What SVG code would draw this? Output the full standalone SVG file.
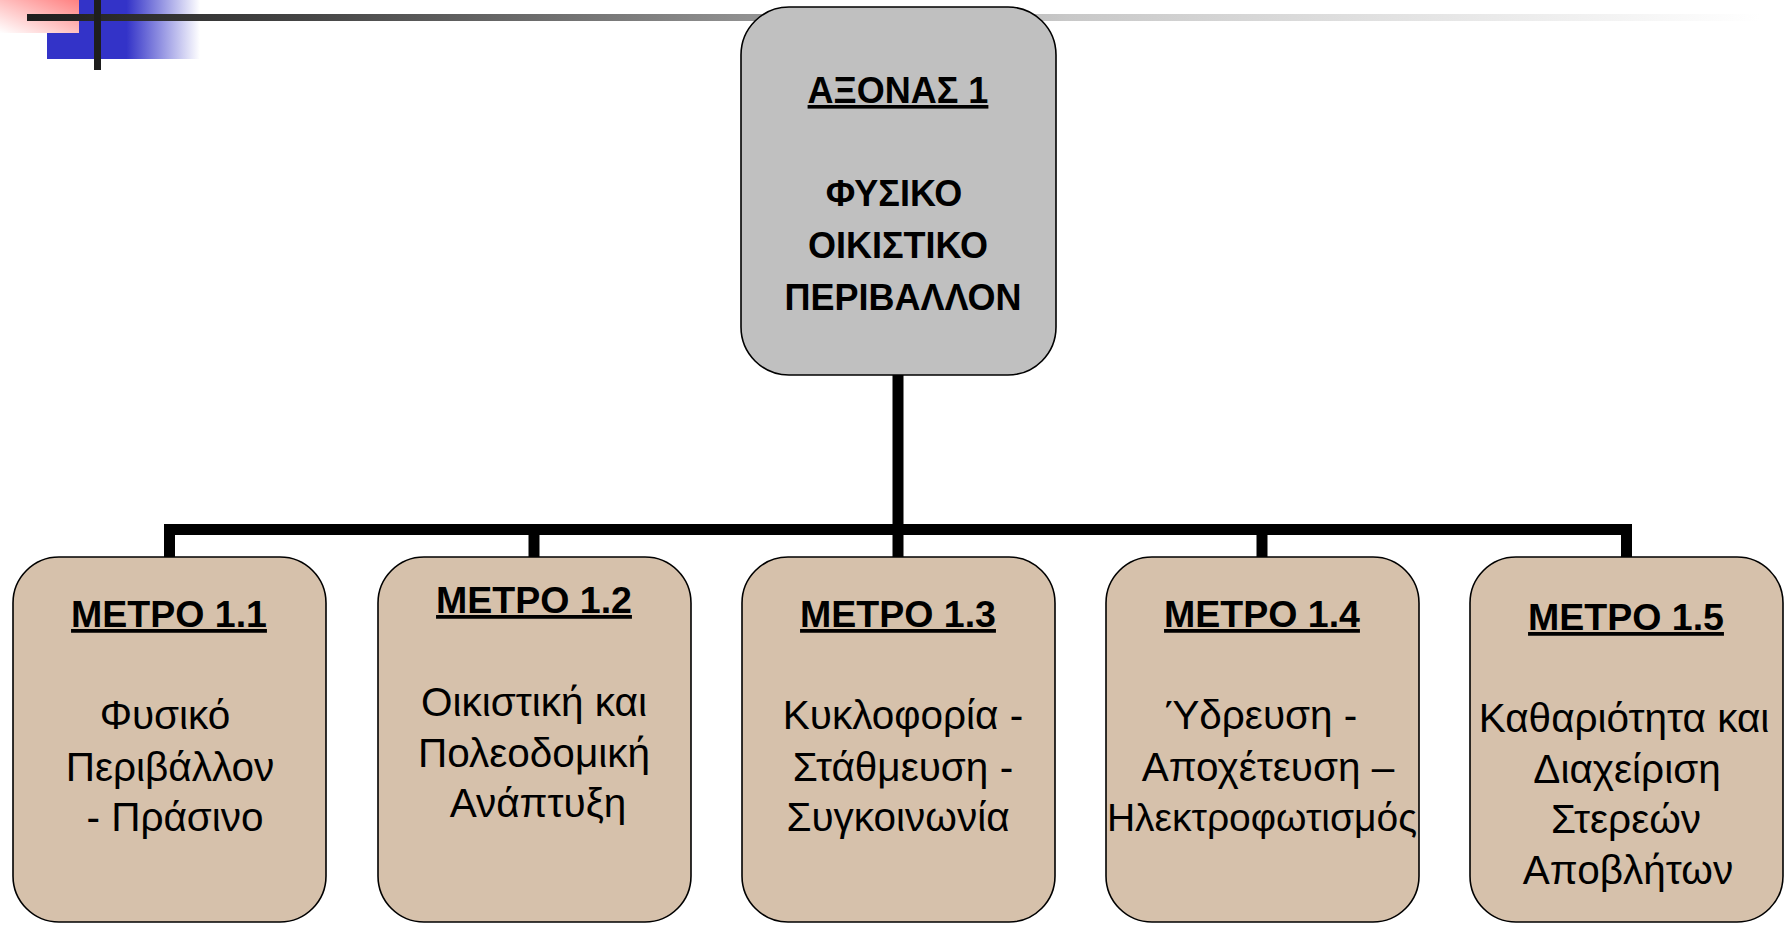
<svg xmlns="http://www.w3.org/2000/svg" width="1787" height="929" viewBox="0 0 1787 929">
<defs>
<linearGradient id="gRed" x1="1" y1="0" x2="0" y2="1">
<stop offset="0" stop-color="#ff8080"/>
<stop offset="1" stop-color="#ffffff"/>
</linearGradient>
<linearGradient id="gBlue" x1="47" y1="0" x2="200" y2="0" gradientUnits="userSpaceOnUse">
<stop offset="0" stop-color="#3333c8"/>
<stop offset="0.52" stop-color="#3333c8"/>
<stop offset="1" stop-color="#3333c8" stop-opacity="0"/>
</linearGradient>
<linearGradient id="gBar" x1="27" y1="0" x2="1760" y2="0" gradientUnits="userSpaceOnUse">
<stop offset="0" stop-color="#1e1e1e"/>
<stop offset="0.16" stop-color="#454545"/>
<stop offset="0.41" stop-color="#8f8f8f"/>
<stop offset="0.6" stop-color="#c8c8c8"/>
<stop offset="1" stop-color="#ffffff"/>
</linearGradient>
</defs>
<style>
.top{fill:#c0c0c0;stroke:#000;stroke-width:1.6}
.sub{fill:#d6c1ab;stroke:#000;stroke-width:1.6}
.h{font-family:"Liberation Sans",Arial,sans-serif;font-weight:bold;font-size:36px;fill:#000;text-anchor:middle}
.m{font-family:"Liberation Sans",Arial,sans-serif;font-weight:bold;font-size:37.5px;fill:#000;text-anchor:middle;text-decoration:underline}
.b{font-family:"Liberation Sans",Arial,sans-serif;font-size:40.5px;fill:#000;text-anchor:middle}
.c{fill:none;stroke:#000;stroke-width:11}
</style>
<g id="decor">
<rect x="47" y="0" width="153" height="59" fill="url(#gBlue)"/>
<rect x="0" y="0" width="79" height="33" fill="url(#gRed)"/>
<rect x="27" y="14" width="1760" height="7" fill="url(#gBar)"/>
<rect x="94" y="0" width="7" height="70" fill="#1e1e1e"/>
</g>
<g id="connectors">
<line class="c" x1="898" y1="374" x2="898" y2="557"/>
<polyline class="c" points="169.5,558 169.5,529.5 1626.5,529.5 1626.5,558"/>
<line class="c" x1="534" y1="529.5" x2="534" y2="558"/>
<line class="c" x1="1262" y1="529.5" x2="1262" y2="558"/>
</g>
<g id="axis1">
<rect class="top" x="741" y="7" width="315" height="368" rx="48" ry="48"/>
<text class="h" x="898" y="103" text-decoration="underline">ΑΞΟΝΑΣ 1</text>
<text class="h" x="894" y="206">ΦΥΣΙΚΟ</text>
<text class="h" x="898" y="258">ΟΙΚΙΣΤΙΚΟ</text>
<text class="h" x="903" y="310">ΠΕΡΙΒΑΛΛΟΝ</text>
</g>
<g id="m11">
<rect class="sub" x="13" y="557" width="313" height="365" rx="46" ry="46"/>
<text class="m" x="169" y="627">ΜΕΤΡΟ 1.1</text>
<text class="b" x="165" y="729">Φυσικό</text>
<text class="b" x="170" y="781">Περιβάλλον</text>
<text class="b" x="175" y="831">- Πράσινο</text>
</g>
<g id="m12">
<rect class="sub" x="378" y="557" width="313" height="365" rx="46" ry="46"/>
<text class="m" x="534" y="613">ΜΕΤΡΟ 1.2</text>
<text class="b" x="534" y="716">Οικιστική και</text>
<text class="b" x="534" y="767">Πολεοδομική</text>
<text class="b" x="538" y="817">Ανάπτυξη</text>
</g>
<g id="m13">
<rect class="sub" x="742" y="557" width="313" height="365" rx="46" ry="46"/>
<text class="m" x="898" y="627">ΜΕΤΡΟ 1.3</text>
<text class="b" x="903" y="729">Κυκλοφορία -</text>
<text class="b" x="903" y="781">Στάθμευση -</text>
<text class="b" x="898" y="831">Συγκοινωνία</text>
</g>
<g id="m14">
<rect class="sub" x="1106" y="557" width="313" height="365" rx="46" ry="46"/>
<text class="m" x="1262" y="627">ΜΕΤΡΟ 1.4</text>
<text class="b" x="1261" y="729">Ύδρευση -</text>
<text class="b" x="1268" y="781">Αποχέτευση –</text>
<text class="b" x="1262" y="831" style="font-size:39px">Ηλεκτροφωτισμός</text>
</g>
<g id="m15">
<rect class="sub" x="1470" y="557" width="313" height="365" rx="46" ry="46"/>
<text class="m" x="1626" y="630">ΜΕΤΡΟ 1.5</text>
<text class="b" x="1624" y="732">Καθαριότητα και</text>
<text class="b" x="1627" y="783">Διαχείριση</text>
<text class="b" x="1626" y="833">Στερεών</text>
<text class="b" x="1628" y="884">Αποβλήτων</text>
</g>
</svg>
